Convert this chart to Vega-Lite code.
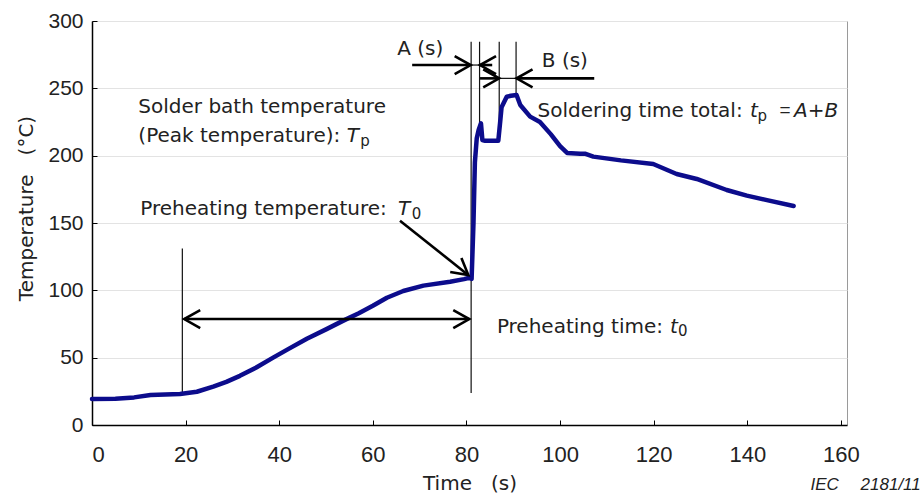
{
  "$schema": "https://vega.github.io/schema/vega-lite/v6.json",
  "width": 755,
  "height": 404,
  "autosize": {"type": "none"},
  "padding": {"left": 92, "top": 21, "right": 75, "bottom": 72},
  "background": "white",
  "config": {
    "view": {"stroke": "#9a9a9a", "strokeWidth": 1},
    "font": "DejaVu Sans"
  },
  "datasets": {
    "profile": [
      {"t": 0, "T": 19.3}, {"t": 5, "T": 19.5}, {"t": 9, "T": 20.5}, {"t": 12.5, "T": 22.3},
      {"t": 18.8, "T": 23}, {"t": 22.4, "T": 24.7}, {"t": 25.9, "T": 28.5}, {"t": 28.7, "T": 32},
      {"t": 31.6, "T": 36.5}, {"t": 35, "T": 42.5}, {"t": 38.7, "T": 50}, {"t": 42, "T": 56.5},
      {"t": 45.9, "T": 64}, {"t": 50, "T": 71}, {"t": 53.7, "T": 77.5}, {"t": 57, "T": 83},
      {"t": 60, "T": 88.5}, {"t": 63, "T": 94.5}, {"t": 66.5, "T": 99.5}, {"t": 70.8, "T": 103.5},
      {"t": 76.5, "T": 106.4}, {"t": 79.5, "T": 108.3}, {"t": 80.8, "T": 109.5}, {"t": 81.1, "T": 108.5},
      {"t": 81.5, "T": 150}, {"t": 81.8, "T": 195}, {"t": 82.2, "T": 213}, {"t": 82.6, "T": 219},
      {"t": 83.1, "T": 224}, {"t": 83.4, "T": 211.6}, {"t": 84, "T": 211}, {"t": 86.8, "T": 211},
      {"t": 87.2, "T": 225}, {"t": 87.5, "T": 236}, {"t": 88.6, "T": 243.8}, {"t": 89.5, "T": 244.5},
      {"t": 90.7, "T": 245}, {"t": 91.5, "T": 237.6}, {"t": 93.6, "T": 229}, {"t": 95.7, "T": 225},
      {"t": 98, "T": 216}, {"t": 100, "T": 207}, {"t": 101.5, "T": 202}, {"t": 104.3, "T": 201.5},
      {"t": 105.3, "T": 201.5}, {"t": 107.1, "T": 199.3}, {"t": 113, "T": 196.5}, {"t": 119.9, "T": 193.8},
      {"t": 124.9, "T": 186.4}, {"t": 129.2, "T": 182.7}, {"t": 135.6, "T": 174.5}, {"t": 139.9, "T": 170.3},
      {"t": 144.2, "T": 167}, {"t": 149.9, "T": 162.6}
    ],
    "guides": [
      {"t1": 19.3, "t2": 19.3, "v1": 23.5, "v2": 131},
      {"t1": 81.0, "t2": 81.0, "v1": 23.7, "v2": 284.6},
      {"t1": 82.8, "t2": 82.8, "v1": 221.5, "v2": 284.6},
      {"t1": 87.0, "t2": 87.0, "v1": 211.6, "v2": 284.6},
      {"t1": 90.6, "t2": 90.6, "v1": 246, "v2": 284.6},
      {"t1": 81.0, "t2": 82.8, "v1": 267.3, "v2": 267.3},
      {"t1": 87.0, "t2": 90.6, "v1": 257.4, "v2": 257.4}
    ],
    "shafts": [
      {"t1": 68.4, "t2": 80.8, "v1": 267.3, "v2": 267.3},
      {"t1": 82.9, "t2": 85.5, "v1": 267.3, "v2": 267.3},
      {"t1": 82.9, "t2": 86.9, "v1": 257.4, "v2": 257.4},
      {"t1": 90.7, "t2": 107.3, "v1": 257.4, "v2": 257.4},
      {"t1": 19.7, "t2": 80.6, "v1": 78.7, "v2": 78.7},
      {"t1": 65.8, "t2": 80.3, "v1": 151.7, "v2": 111.6}
    ],
    "heads": [
      {"t": 80.9, "T": 267.3, "dir": "right"},
      {"t": 82.9, "T": 267.3, "dir": "left"},
      {"t": 87.0, "T": 257.4, "dir": "right"},
      {"t": 90.7, "T": 257.4, "dir": "left"},
      {"t": 19.7, "T": 78.7, "dir": "left"},
      {"t": 80.6, "T": 78.7, "dir": "right"},
      {"t": 80.4, "T": 111.4, "dir": "down-right"}
    ],
    "notes": [
      {"t": 9.9, "T": 231.5, "text": "Solder bath temperature", "kind": "body"},
      {"t": 9.9, "T": 210.4, "text": "(Peak temperature):", "kind": "body"},
      {"t": 54.4, "T": 210.4, "text": "T", "kind": "symbol"},
      {"t": 57.3, "T": 207.5, "text": "p", "kind": "sub"},
      {"t": 10.3, "T": 155.9, "text": "Preheating temperature:", "kind": "body"},
      {"t": 65.4, "T": 155.9, "text": "T", "kind": "symbol"},
      {"t": 68.3, "T": 153.2, "text": "0", "kind": "sub"},
      {"t": 86.5, "T": 68.6, "text": "Preheating time:", "kind": "body"},
      {"t": 123.5, "T": 68.6, "text": "t", "kind": "symbol"},
      {"t": 125.2, "T": 65.8, "text": "0", "kind": "sub"},
      {"t": 95.2, "T": 229, "text": "Soldering time total:", "kind": "body"},
      {"t": 140.6, "T": 229, "text": "t", "kind": "symbol"},
      {"t": 142.2, "T": 226, "text": "p", "kind": "sub"},
      {"t": 146.9, "T": 229.5, "text": "=", "kind": "sign"},
      {"t": 150.0, "T": 229, "text": "A+B", "kind": "symbol"},
      {"t": 65.2, "T": 274.7, "text": "A (s)", "kind": "body"},
      {"t": 96.1, "T": 266, "text": "B (s)", "kind": "body"}
    ],
    "credit": [
      {"t": 153.5, "T": -48.5, "text": "IEC"},
      {"t": 164.2, "T": -48.5, "text": "2181/11"}
    ]
  },
  "encoding": {
    "x": {
      "type": "quantitative",
      "scale": {"domain": [0, 161.3], "nice": false, "zero": false},
      "axis": {
        "values": [0, 20, 40, 60, 80, 100, 120, 140, 160],
        "title": "Time\u00a0\u00a0\u00a0(s)",
        "grid": false,
        "domainColor": "#000000",
        "domainWidth": 1.5,
        "tickColor": "#000000",
        "tickSize": -5,
        "tickWidth": 1,
        "labelFont": "Liberation Sans",
        "labelFontSize": 22,
        "labelColor": "#222222",
        "labelPadding": 24,
        "titleFont": "DejaVu Sans",
        "titleFontSize": 20,
        "titleFontWeight": "normal",
        "titleColor": "#222222",
        "titleBaseline": "alphabetic",
        "titleY": 64.5
      }
    },
    "y": {
      "type": "quantitative",
      "scale": {"domain": [0, 300], "nice": false},
      "axis": {
        "values": [0, 50, 100, 150, 200, 250, 300],
        "title": "Temperature\u00a0\u00a0\u00a0(°C)",
        "grid": true,
        "gridColor": "#e3e3e3",
        "gridWidth": 1,
        "domainColor": "#000000",
        "domainWidth": 1.5,
        "tickColor": "#000000",
        "tickSize": -5,
        "tickWidth": 1,
        "labelFont": "Liberation Sans",
        "labelFontSize": 21,
        "labelColor": "#222222",
        "labelPadding": 14,
        "titleFont": "DejaVu Sans",
        "titleFontSize": 20,
        "titleFontWeight": "normal",
        "titleColor": "#222222",
        "titleAngle": -90,
        "titleBaseline": "alphabetic",
        "titleAlign": "center",
        "titleX": -60,
        "titleY": 187
      }
    }
  },
  "layer": [
    {
      "data": {"name": "guides"},
      "mark": {"type": "rule", "color": "#111111", "strokeWidth": 1.2},
      "encoding": {
        "x": {"field": "t1"},
        "x2": {"field": "t2"},
        "y": {"field": "v1"},
        "y2": {"field": "v2"}
      }
    },
    {
      "data": {"name": "profile"},
      "mark": {"type": "line", "color": "#0c0c8c", "strokeWidth": 4.5, "strokeJoin": "round", "strokeCap": "round"},
      "encoding": {
        "x": {"field": "t"},
        "y": {"field": "T"}
      }
    },
    {
      "data": {"name": "shafts"},
      "mark": {"type": "rule", "color": "#000000", "strokeWidth": 2.6},
      "encoding": {
        "x": {"field": "t1"},
        "x2": {"field": "t2"},
        "y": {"field": "v1"},
        "y2": {"field": "v2"}
      }
    },
    {
      "data": {"name": "heads"},
      "transform": [{"filter": "datum.dir === 'right'"}],
      "mark": {"type": "point", "shape": "M -1.6 -0.9 L 0 0 L -1.6 0.9", "size": 400, "filled": false, "stroke": "#000000", "strokeWidth": 2.6, "opacity": 1},
      "encoding": {
        "x": {"field": "t"},
        "y": {"field": "T"}
      }
    },
    {
      "data": {"name": "heads"},
      "transform": [{"filter": "datum.dir === 'left'"}],
      "mark": {"type": "point", "shape": "M 1.6 -0.9 L 0 0 L 1.6 0.9", "size": 400, "filled": false, "stroke": "#000000", "strokeWidth": 2.6, "opacity": 1},
      "encoding": {
        "x": {"field": "t"},
        "y": {"field": "T"}
      }
    },
    {
      "data": {"name": "heads"},
      "transform": [{"filter": "datum.dir === 'down-right'"}],
      "mark": {"type": "point", "shape": "M -1.6 -0.9 L 0 0 L -1.6 0.9", "angle": 38.5, "size": 400, "filled": false, "stroke": "#000000", "strokeWidth": 2.6, "opacity": 1},
      "encoding": {
        "x": {"field": "t"},
        "y": {"field": "T"}
      }
    },
    {
      "data": {"name": "notes"},
      "transform": [{"filter": "datum.kind === 'body'"}],
      "mark": {"type": "text", "font": "DejaVu Sans", "fontSize": 20, "align": "left", "baseline": "alphabetic", "color": "#222222"},
      "encoding": {
        "x": {"field": "t"},
        "y": {"field": "T"},
        "text": {"field": "text"}
      }
    },
    {
      "data": {"name": "notes"},
      "transform": [{"filter": "datum.kind === 'sign'"}],
      "mark": {"type": "text", "font": "Liberation Sans", "fontSize": 19, "align": "left", "baseline": "alphabetic", "color": "#222222"},
      "encoding": {
        "x": {"field": "t"},
        "y": {"field": "T"},
        "text": {"field": "text"}
      }
    },
    {
      "data": {"name": "notes"},
      "transform": [{"filter": "datum.kind === 'symbol'"}],
      "mark": {"type": "text", "font": "DejaVu Sans", "fontSize": 20, "fontStyle": "italic", "align": "left", "baseline": "alphabetic", "color": "#222222"},
      "encoding": {
        "x": {"field": "t"},
        "y": {"field": "T"},
        "text": {"field": "text"}
      }
    },
    {
      "data": {"name": "notes"},
      "transform": [{"filter": "datum.kind === 'sub'"}],
      "mark": {"type": "text", "font": "DejaVu Sans", "fontSize": 15, "align": "left", "baseline": "alphabetic", "color": "#222222"},
      "encoding": {
        "x": {"field": "t"},
        "y": {"field": "T"},
        "text": {"field": "text"}
      }
    },
    {
      "data": {"name": "credit"},
      "mark": {"type": "text", "font": "Liberation Sans", "fontSize": 17, "fontStyle": "italic", "align": "left", "baseline": "alphabetic", "color": "#222222"},
      "encoding": {
        "x": {"field": "t"},
        "y": {"field": "T"},
        "text": {"field": "text"}
      }
    }
  ]
}
